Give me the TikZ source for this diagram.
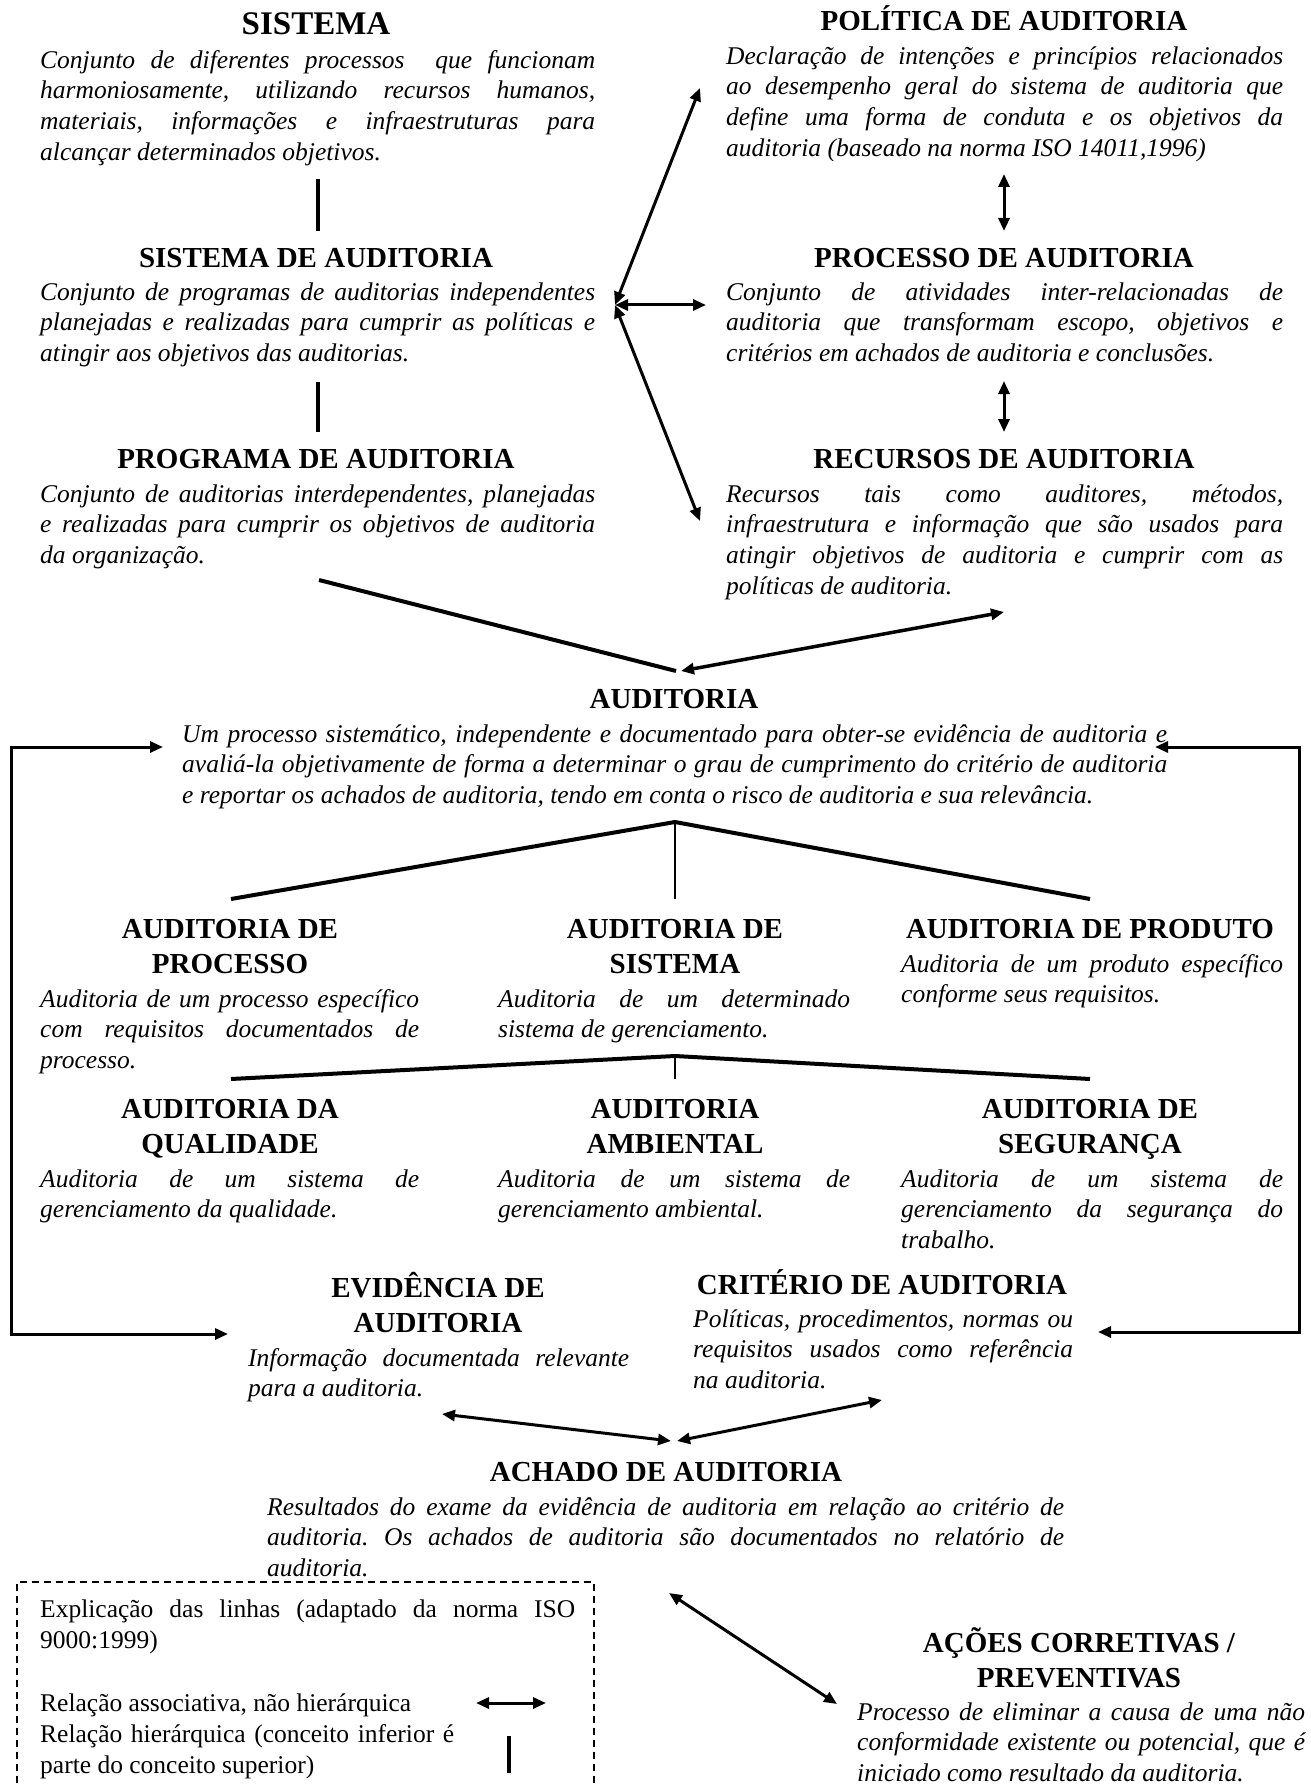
\documentclass[tikz,border=0pt]{standalone}
\usepackage{fontspec}
\setmainfont{Liberation Serif}
\usetikzlibrary{arrows.meta}
\setlength\parindent{0pt}
\frenchspacing
\newcommand\bodyfont{\fontsize{25.5}{30.7}\selectfont\itshape}
\newcommand\headfont{\fontsize{29}{35}\selectfont\bfseries}
\newcommand\bigheadfont{\fontsize{33}{40}\selectfont\bfseries}
\newcommand\legfont{\fontsize{25.5}{31}\selectfont}
\begin{document}
\begin{tikzpicture}[x=1pt,y=-1pt,
  >={Triangle[length=13pt,width=11pt]},
  head/.style={anchor=north,inner sep=0pt,align=center,font=\headfont},
  body/.style={anchor=north west,inner sep=0pt,align=justify,
    execute at begin node={\hyphenpenalty=10000\exhyphenpenalty=10000\tolerance=10000\strut},
    execute at end node={\strut},font=\bodyfont},
  legtext/.style={anchor=north west,inner sep=0pt,align=justify,
    execute at begin node={\hyphenpenalty=10000\tolerance=10000\strut},
    execute at end node={\strut},font=\legfont},
  hier/.style={line width=4pt},
  hierthin/.style={line width=2.5pt},
  assoc/.style={line width=3pt,<->},
  feed/.style={line width=3pt}]
\useasboundingbox (0,0) rectangle (1310,1784);

% ---------- left column: system hierarchy ----------
\node[head,font=\bigheadfont] (sishead) at (316,6) {\strut SISTEMA};
\node[body,text width=555pt] (sisbody) at (40,46.5) {Conjunto de diferentes processos\ \ que funcionam\linebreak harmoniosamente, utilizando recursos humanos,\linebreak materiais, informações e infraestruturas para\linebreak alcançar determinados objetivos.};
\node[head] (sadhead) at (316,243) {\strut SISTEMA DE AUDITORIA};
\node[body,text width=555pt] (sadbody) at (40,278.5) {Conjunto de programas de auditorias independentes\linebreak planejadas e realizadas para cumprir as políticas e\linebreak atingir aos objetivos das auditorias.};
\node[head] (proghead) at (316,444) {\strut PROGRAMA DE AUDITORIA};
\node[body,text width=555pt] (progbody) at (40,480.5) {Conjunto de auditorias interdependentes, planejadas\linebreak e realizadas para cumprir os objetivos de auditoria\linebreak da organização.};

% ---------- right column ----------
\node[head] (polhead) at (1004,5) {\strut POLÍTICA DE AUDITORIA};
\node[body,text width=557pt] (polbody) at (726,42.5) {Declaração de intenções e princípios relacionados\linebreak ao desempenho geral do sistema de auditoria que\linebreak define uma forma de conduta e os objetivos da\linebreak auditoria (baseado na norma ISO 14011,1996)};
\node[head] (prochead) at (1004,243) {\strut PROCESSO DE AUDITORIA};
\node[body,text width=557pt] (procbody) at (726,278.5) {Conjunto de atividades inter-relacionadas de\linebreak auditoria que transformam escopo, objetivos e\linebreak critérios em achados de auditoria e conclusões.};
\node[head] (rechead) at (1004,444) {\strut RECURSOS DE AUDITORIA};
\node[body,text width=557pt] (recbody) at (726,480.5) {Recursos tais como auditores, métodos,\linebreak infraestrutura e informação que são usados para\linebreak atingir objetivos de auditoria e cumprir com as\linebreak políticas de auditoria.};

% ---------- audit ----------
\node[head] (audhead) at (674,684) {\strut AUDITORIA};
\node[body,text width=985pt] (audbody) at (182,720.5) {Um processo sistemático, independente e documentado para obter-se evidência de auditoria e\linebreak avaliá-la objetivamente de forma a determinar o grau de cumprimento do critério de auditoria\linebreak e reportar os achados de auditoria, tendo em conta o risco de auditoria e sua relevância.};

% ---------- audit types ----------
\node[head] (aphead) at (230,914) {\strut AUDITORIA DE\\PROCESSO};
\node[body,text width=379pt] (apbody) at (40,985.5) {Auditoria de um processo específico\linebreak com requisitos documentados de\linebreak processo.};
\node[head] (ashead) at (675,914) {\strut AUDITORIA DE\\SISTEMA};
\node[body,text width=352pt] (asbody) at (498,985.5) {Auditoria de um determinado\linebreak sistema de gerenciamento.};
\node[head] (aprhead) at (1090,914) {\strut AUDITORIA DE PRODUTO};
\node[body,text width=382pt] (aprbody) at (901,950.5) {Auditoria de um produto específico\linebreak conforme seus requisitos.};

\node[head] (aqhead) at (230,1094) {\strut AUDITORIA DA\\QUALIDADE};
\node[body,text width=379pt] (aqbody) at (40,1165.5) {Auditoria de um sistema de\linebreak gerenciamento da qualidade.};
\node[head] (aahead) at (675,1094) {\strut AUDITORIA\\AMBIENTAL};
\node[body,text width=352pt] (aabody) at (498,1165.5) {Auditoria de um sistema de\linebreak gerenciamento ambiental.};
\node[head] (asghead) at (1090,1094) {\strut AUDITORIA DE\\SEGURANÇA};
\node[body,text width=382pt] (asgbody) at (901,1165.5) {Auditoria de um sistema de\linebreak gerenciamento da segurança do\linebreak trabalho.};

% ---------- evidence, criteria, findings ----------
\node[head] (evhead) at (438,1272) {\strut EVIDÊNCIA DE\\AUDITORIA};
\node[body,text width=381pt] (evbody) at (248,1344.5) {Informação documentada relevante\linebreak para a auditoria.};
\node[head] (crhead) at (882,1269) {\strut CRITÉRIO DE AUDITORIA};
\node[body,text width=380pt] (crbody) at (693,1305.5) {Políticas, procedimentos, normas ou\linebreak requisitos usados como referência\linebreak na auditoria.};
\node[head] (achhead) at (666,1457) {\strut ACHADO DE AUDITORIA};
\node[body,text width=797pt] (achbody) at (267,1493.5) {Resultados do exame da evidência de auditoria em relação ao critério de\linebreak auditoria. Os achados de auditoria são documentados no relatório de\linebreak auditoria.};
\node[head] (achead) at (1079,1627) {\strut AÇÕES CORRETIVAS /\\PREVENTIVAS};
\node[body,text width=448pt] (acbody) at (857,1698.5) {Processo de eliminar a causa de uma não\linebreak conformidade existente ou potencial, que é\linebreak iniciado como resultado da auditoria.};

% ---------- legend ----------
\draw[line width=1.2pt,dash pattern=on 7pt off 5pt] (17,1795) -- (17,1582) -- (594,1582) -- (594,1795);
\node[legtext,text width=535pt] (legtitle) at (40,1596) {Explicação das linhas (adaptado da norma ISO\linebreak 9000:1999)};
\node[legtext,text width=414pt] (legitems) at (40,1690) {Relação associativa, não hierárquica\\Relação hierárquica (conceito inferior é\linebreak parte do conceito superior)};
\coordinate (legA1) at (476,1703);
\coordinate (legA2) at (546,1703);
\coordinate (legH1) at (509,1736);
\coordinate (legH2) at (509,1773);
\draw[assoc] (legA1) -- (legA2);
\draw[hier] (legH1) -- (legH2);

% ---------- connector end points ----------
\coordinate (h1a) at (318,179);  \coordinate (h1b) at (318,231);
\coordinate (h2a) at (318,382);  \coordinate (h2b) at (318,432);
\coordinate (r1a) at (1004,174); \coordinate (r1b) at (1004,231);
\coordinate (r2a) at (1004,381); \coordinate (r2b) at (1004,432);
\coordinate (fan) at (615,305);
\coordinate (fanP) at (700,88);
\coordinate (fanC) at (706,305);
\coordinate (fanR) at (700,521);
\coordinate (inL) at (319,580);
\coordinate (inR) at (1004,612);
\coordinate (inJ) at (676,671);
\coordinate (inJr) at (681,671);
\coordinate (t1) at (675,822);
\coordinate (t1a) at (231,899); \coordinate (t1b) at (675,899); \coordinate (t1c) at (1090,899);
\coordinate (t2) at (675,1056);
\coordinate (t2a) at (231,1079); \coordinate (t2b) at (675,1079); \coordinate (t2c) at (1090,1079);
\coordinate (fl1) at (163,747); \coordinate (fl2) at (11,747);
\coordinate (fl3) at (11,1334); \coordinate (fl4) at (228,1334);
\coordinate (fr1) at (1155,747); \coordinate (fr2) at (1299,747);
\coordinate (fr3) at (1299,1332); \coordinate (fr4) at (1098,1332);
\coordinate (evA) at (442,1414); \coordinate (crA) at (882,1400);
\coordinate (achL) at (671,1441); \coordinate (achR) at (677,1441);
\coordinate (achB) at (669,1593); \coordinate (acA) at (837,1704);

% ---------- connectors ----------
\draw[hier] (h1a) -- (h1b);
\draw[hier] (h2a) -- (h2b);
\draw[assoc] (r1a) -- (r1b);
\draw[assoc] (r2a) -- (r2b);
\draw[assoc] (fan) -- (fanP);
\draw[assoc] (fan) -- (fanC);
\draw[assoc] (fan) -- (fanR);
\draw[line width=4pt] (inL) -- (inJ);
\draw[assoc,line width=3.5pt] (inR) -- (inJr);
\draw[hier] (t1a) -- (t1) -- (t1c);
\draw[hierthin] (t1) -- (t1b);
\draw[hier] (t2a) -- (t2) -- (t2c);
\draw[hierthin] (t2) -- (t2b);
\draw[feed,<->] (fl1) -- (fl2) -- (fl3) -- (fl4);
\draw[feed,<->] (fr1) -- (fr2) -- (fr3) -- (fr4);
\draw[assoc] (evA) -- (achL);
\draw[assoc] (crA) -- (achR);
\draw[assoc] (achB) -- (acA);
\end{tikzpicture}
\end{document}
